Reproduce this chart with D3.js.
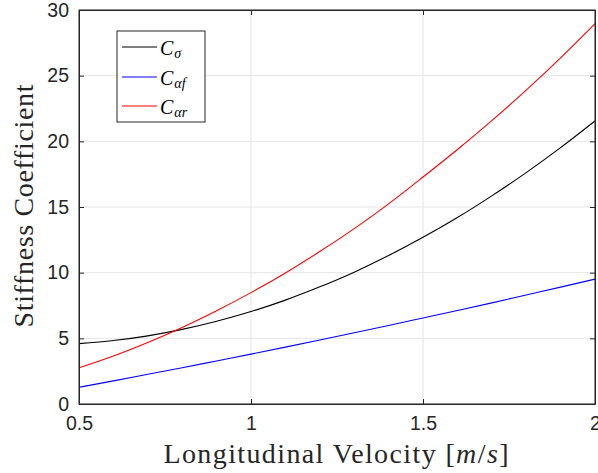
<!DOCTYPE html>
<html><head><meta charset="utf-8">
<script src="https://cdn.jsdelivr.net/npm/d3@7"></script>
<style>body{margin:0;background:#fff}svg{display:block}</style>
</head><body>
<svg id="c" width="598" height="473"></svg>
<script>
const velocity = [0.5,0.6,0.7,0.8,0.9,1.0,1.1,1.2,1.3,1.4,1.5,1.6,1.7,1.8,1.9,2.0];
const cSigma = [4.60,4.83,5.19,5.68,6.30,7.04,7.91,8.92,10.04,11.30,12.69,14.20,15.85,17.62,19.52,21.55];
const cAlphaF = [1.27,1.76,2.26,2.76,3.28,3.80,4.33,4.87,5.42,5.98,6.55,7.12,7.70,8.30,8.90,9.51];
const cAlphaR = [2.76,3.66,4.69,5.83,7.10,8.48,9.98,11.61,13.35,15.24,17.28,19.38,21.58,23.90,26.36,28.96];
const xTicks = [0.5,1,1.5,2];
const xTickLabels = ["0.5","1","1.5","2"];
const yTicks = [0,5,10,15,20,25,30];
const seriesNames = ["σ","αf","αr"];
const seriesColors = ["#000000","#0000ff","#ff0000"];

const svg = d3.select("#c");
const L=79,R=595,T=10,B=404;
const x = d3.scaleLinear().domain([0.5,2]).range([L,R]);
const y = d3.scaleLinear().domain([0,30]).range([B,T]);
const axisCol="#262626", gridCol="#e5e5e5";
const tickFont="'Liberation Sans', Arial, sans-serif";
const serif="'Liberation Serif','Times New Roman',serif";

// grid
svg.append("g").selectAll("line").data(xTicks).join("line")
  .attr("x1",d=>x(d)).attr("x2",d=>x(d)).attr("y1",T).attr("y2",B)
  .attr("stroke",gridCol).attr("stroke-width",1);
svg.append("g").selectAll("line").data(yTicks).join("line")
  .attr("x1",L).attr("x2",R).attr("y1",d=>y(d)).attr("y2",d=>y(d))
  .attr("stroke",gridCol).attr("stroke-width",1);

// lines
const all=[cSigma,cAlphaF,cAlphaR];
const line = d3.line().x((d,i)=>x(velocity[i])).y(d=>y(d)).curve(d3.curveMonotoneX);
all.forEach((s,k)=>{
  svg.append("path").datum(s).attr("d",line).attr("fill","none")
    .attr("stroke",seriesColors[k]).attr("stroke-width",1.1);
});

// axes: box with inner ticks
const xb = d3.axisBottom(x).tickValues(xTicks).tickFormat((d,i)=>xTickLabels[i]).tickSizeInner(-5).tickSizeOuter(0).tickPadding(12);
const xt = d3.axisTop(x).tickValues(xTicks).tickFormat("").tickSizeInner(-5).tickSizeOuter(0);
const yl = d3.axisLeft(y).tickValues(yTicks).tickSizeInner(-5).tickSizeOuter(0).tickPadding(10);
const yr = d3.axisRight(y).tickValues(yTicks).tickFormat("").tickSizeInner(-5).tickSizeOuter(0);
function style(g){
  g.selectAll("path").attr("stroke",axisCol);
  g.selectAll("line").attr("stroke",axisCol);
  g.selectAll("text").attr("fill",axisCol).style("font-family",tickFont).style("font-size","19.5px");
}
svg.append("g").attr("transform",`translate(0,${B})`).call(xb).call(style);
svg.append("g").attr("transform",`translate(0,${T})`).call(xt).call(style);
svg.append("g").attr("transform",`translate(${L},0)`).call(yl).call(style);
svg.append("g").attr("transform",`translate(${R},0)`).call(yr).call(style);
svg.append("rect").attr("x",L).attr("y",T).attr("width",R-L).attr("height",B-T)
  .attr("fill","none").attr("stroke",axisCol).attr("stroke-width",1);

// axis labels
const xl = svg.append("text").attr("x",336).attr("y",463).attr("text-anchor","middle")
  .attr("textLength",345).attr("lengthAdjust","spacing")
  .style("font-family",serif).style("font-size","28px").attr("fill","#262626");
xl.append("tspan").text("Longitudinal Velocity [");
xl.append("tspan").style("font-style","italic").text("m");
xl.append("tspan").text("/");
xl.append("tspan").style("font-style","italic").text("s");
xl.append("tspan").text("]");
svg.append("text").attr("transform",`translate(33,206) rotate(-90)`).attr("text-anchor","middle")
  .attr("textLength",243).attr("lengthAdjust","spacing")
  .style("font-family",serif).style("font-size","28px").attr("fill","#262626").text("Stiffness Coefficient");

// legend
const lg = svg.append("g");
lg.append("rect").attr("x",117).attr("y",31).attr("width",88).attr("height",91)
  .attr("fill","#fff").attr("stroke","#262626").attr("stroke-width",1);
const ly=[47,77,106];
seriesNames.forEach((n,k)=>{
  lg.append("line").attr("x1",122).attr("x2",157).attr("y1",ly[k]).attr("y2",ly[k])
    .attr("stroke",seriesColors[k]).attr("stroke-width",1.1);
  const t = lg.append("text").attr("x",160).attr("y",ly[k]+7.5)
    .style("font-family",serif).style("font-size","20px").style("font-style","italic").attr("fill","#000");
  t.append("tspan").text("C");
  t.append("tspan").attr("dx",1).attr("dy",3).style("font-size","14px").text(n);
});
</script>
</body></html>
